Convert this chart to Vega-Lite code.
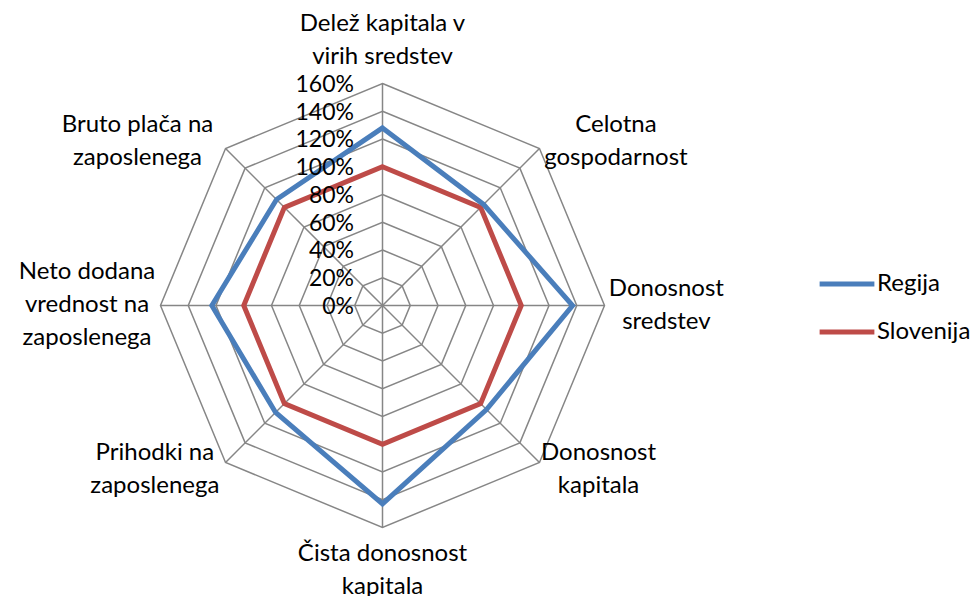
{
  "$schema": "https://vega.github.io/schema/vega-lite/v6.json",
  "width": 978,
  "height": 596,
  "autosize": "none",
  "padding": 0,
  "background": "white",
  "config": {"view": {"stroke": null}},
  "datasets": {
    "cats": [
      {"cat": "Delež kapitala v\nvirih sredstev", "i": 0, "Regija": 128, "Slovenija": 100},
      {"cat": "Celotna\ngospodarnost", "i": 1, "Regija": 103, "Slovenija": 100},
      {"cat": "Donosnost\nsredstev", "i": 2, "Regija": 137, "Slovenija": 100},
      {"cat": "Donosnost\nkapitala", "i": 3, "Regija": 106, "Slovenija": 100},
      {"cat": "Čista donosnost\nkapitala", "i": 4, "Regija": 143, "Slovenija": 100},
      {"cat": "Prihodki na\nzaposlenega", "i": 5, "Regija": 109, "Slovenija": 100},
      {"cat": "Neto dodana\nvrednost na\nzaposlenega", "i": 6, "Regija": 123, "Slovenija": 100},
      {"cat": "Bruto plača na\nzaposlenega", "i": 7, "Regija": 108, "Slovenija": 100}
    ],
    "levels": [
      {"level": 0, "label": "0%"},
      {"level": 20, "label": "20%"},
      {"level": 40, "label": "40%"},
      {"level": 60, "label": "60%"},
      {"level": 80, "label": "80%"},
      {"level": 100, "label": "100%"},
      {"level": 120, "label": "120%"},
      {"level": 140, "label": "140%"},
      {"level": 160, "label": "160%"}
    ],
    "rings": [
      {"level": 20, "idx": [0, 1, 2, 3, 4, 5, 6, 7]},
      {"level": 40, "idx": [0, 1, 2, 3, 4, 5, 6, 7]},
      {"level": 60, "idx": [0, 1, 2, 3, 4, 5, 6, 7]},
      {"level": 80, "idx": [0, 1, 2, 3, 4, 5, 6, 7]},
      {"level": 100, "idx": [0, 1, 2, 3, 4, 5, 6, 7]},
      {"level": 120, "idx": [0, 1, 2, 3, 4, 5, 6, 7]},
      {"level": 140, "idx": [0, 1, 2, 3, 4, 5, 6, 7]},
      {"level": 160, "idx": [0, 1, 2, 3, 4, 5, 6, 7]}
    ]
  },
  "layer": [
    {
      "data": {"name": "rings"},
      "transform": [
        {"flatten": ["idx"]},
        {"calculate": "datum.idx * PI / 4", "as": "a"},
        {"calculate": "datum.level * sin(datum.a)", "as": "gx"},
        {"calculate": "datum.level * cos(datum.a)", "as": "gy"}
      ],
      "mark": {"type": "line", "interpolate": "linear-closed", "stroke": "#868686", "strokeWidth": 1.5},
      "encoding": {
        "x": {"field": "gx", "type": "quantitative", "scale": {"domain": [-275.68, 429.19], "nice": false, "zero": false}, "axis": null},
        "y": {"field": "gy", "type": "quantitative", "scale": {"domain": [-209.37, 220.18], "nice": false, "zero": false}, "axis": null},
        "detail": {"field": "level", "type": "nominal"},
        "order": {"field": "idx", "type": "quantitative"}
      }
    },
    {
      "data": {"name": "cats"},
      "transform": [
        {"calculate": "datum.i * PI / 4", "as": "a"},
        {"calculate": "0", "as": "z"},
        {"calculate": "160 * sin(datum.a)", "as": "sx"},
        {"calculate": "160 * cos(datum.a)", "as": "sy"}
      ],
      "mark": {"type": "rule", "stroke": "#868686", "strokeWidth": 1.5},
      "encoding": {
        "x": {"field": "z", "type": "quantitative"},
        "y": {"field": "z", "type": "quantitative"},
        "x2": {"field": "sx"},
        "y2": {"field": "sy"}
      }
    },
    {
      "data": {"name": "cats"},
      "transform": [
        {"fold": ["Slovenija", "Regija"], "as": ["series", "value"]},
        {"calculate": "datum.i * PI / 4", "as": "a"},
        {"calculate": "datum.value * sin(datum.a)", "as": "px"},
        {"calculate": "datum.value * cos(datum.a)", "as": "py"}
      ],
      "mark": {"type": "line", "interpolate": "linear-closed", "strokeWidth": 5, "strokeJoin": "miter"},
      "encoding": {
        "x": {"field": "px", "type": "quantitative"},
        "y": {"field": "py", "type": "quantitative"},
        "order": {"field": "i", "type": "quantitative"},
        "color": {
          "field": "series",
          "type": "nominal",
          "scale": {"domain": ["Regija", "Slovenija"], "range": ["#4A7EBB", "#BE4B48"]},
          "legend": {
            "orient": "none",
            "legendX": 817,
            "legendY": 254,
            "title": null,
            "symbolType": "stroke",
            "symbolStrokeWidth": 5,
            "symbolSize": 3000,
            "labelFontSize": 24,
            "labelFont": "Lato",
            "labelColor": "black",
            "labelOffset": 0,
            "rowPadding": 6,
            "padding": 0
          }
        }
      }
    },
    {
      "data": {"name": "levels"},
      "transform": [{"calculate": "0", "as": "z"}],
      "mark": {"type": "text", "align": "right", "baseline": "middle", "dx": -28.5, "dy": 1.5, "font": "Lato", "fontSize": 23, "color": "black"},
      "encoding": {
        "x": {"field": "z", "type": "quantitative"},
        "y": {"field": "level", "type": "quantitative"},
        "text": {"field": "label", "type": "nominal"}
      }
    },
    {
      "data": {"name": "cats"},
      "transform": [
        {"calculate": "datum.i * PI / 4", "as": "a"},
        {"calculate": "split(datum.cat, '\\n')", "as": "lines"},
        {"calculate": "max(length(datum.lines[0]), length(datum.lines[1] || ''), length(datum.lines[2] || ''))", "as": "mw"},
        {"calculate": "sin(datum.a) > 0.1 ? 1 : (sin(datum.a) < -0.1 ? -1 : 0)", "as": "sxs"},
        {"calculate": "abs(sin(datum.a)) < 0.1 ? (cos(datum.a) > 0 ? 1 : -1) : 0", "as": "sys"},
        {"calculate": "167 * sin(datum.a) + datum.sxs * datum.mw * 5.8 / 1.3875", "as": "lx"},
        {"calculate": "167 * cos(datum.a) + datum.sys * length(datum.lines) * 16.5 / 1.3875 + (length(datum.lines) - 1) * 16.5 / 1.3875", "as": "ly"}
      ],
      "mark": {"type": "text", "align": "center", "baseline": "middle", "lineBreak": "\n", "lineHeight": 33, "font": "Lato", "fontSize": 24, "color": "black"},
      "encoding": {
        "x": {"field": "lx", "type": "quantitative"},
        "y": {"field": "ly", "type": "quantitative"},
        "text": {"field": "cat", "type": "nominal"}
      }
    }
  ]
}
